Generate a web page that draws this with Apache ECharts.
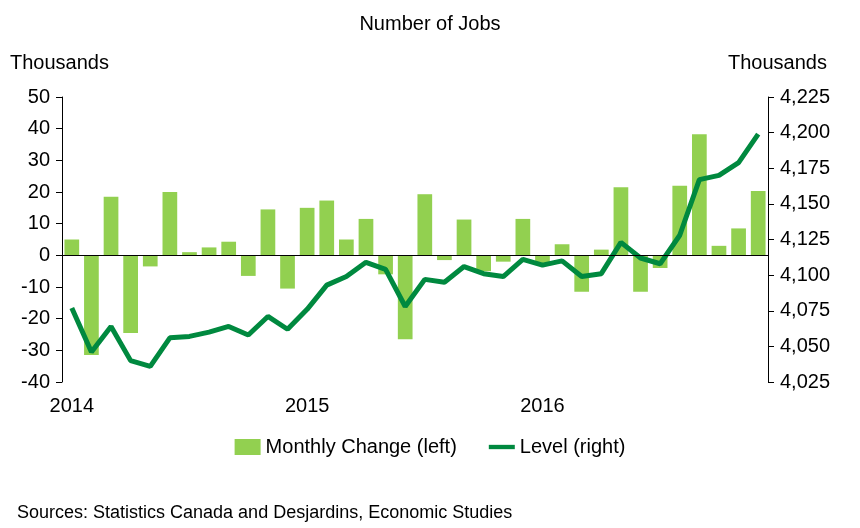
<!DOCTYPE html>
<html><head><meta charset="utf-8">
<script src="https://cdn.jsdelivr.net/npm/echarts@6/dist/echarts.min.js"></script>
<style>body{margin:0}#c{width:860px;height:528px}</style></head>
<body><div id="c"></div>
<script>
const categories = [];
for (const y of [2014, 2015, 2016]) for (let m = 1; m <= 12; m++) categories.push(y + '-' + m);
const monthlyChange = [5,-31.5,18.5,-24.5,-3.5,20,1,2.5,4.3,-6.5,14.5,-10.5,
  15,17.3,5,11.5,-6,-26.5,19.3,-1.5,11.3,-5,-2,11.5,
  -2.5,3.5,-11.5,1.8,21.5,-11.5,-4,22,38.2,3,8.5,20.3];
const level = [4077,4046,4064,4040,4036,4056,4057,4060,4064,4058,4071,4062,
  4076,4093,4099,4109,4104,4078,4097,4095,4106,4101,4099,4111,
  4107,4110,4099,4101,4123,4112,4108,4128,4167,4170,4179,4199];
const font = 'Liberation Sans, Arial, sans-serif';
const fs = 20;
const chart = echarts.init(document.getElementById('c'));
chart.setOption({
  animation:false,
  textStyle:{fontFamily:font},
  title:[{text:'Number of Jobs',left:'center',top:9,textStyle:{fontSize:fs,fontWeight:'normal',color:'#000',fontFamily:font}},
    {text:'Sources: Statistics Canada and Desjardins, Economic Studies',left:12,top:499,textStyle:{fontSize:18,fontWeight:'normal',color:'#000',fontFamily:font}}],
  legend:{top:432,left:'center',itemGap:32,textStyle:{fontSize:fs,color:'#000',fontFamily:font},
    data:[{name:'Monthly Change (left)',icon:'rect'},{name:'Level (right)',icon:'path://M0,5h30v5H0z'}],itemWidth:26,itemHeight:16},
  grid:{left:62,right:92,top:97,bottom:146,containLabel:false,outerBoundsMode:'none'},
  xAxis:{type:'category',data:categories,axisLine:{show:false},axisTick:{show:false},
    axisLabel:{interval:0,fontSize:fs,color:'#000',margin:14,formatter:(v,i)=>i%12===0?v.slice(0,4):''}},
  yAxis:[{type:'value',min:-40,max:50,interval:10,name:'Thousands',nameLocation:'end',nameGap:24,
      nameTextStyle:{fontSize:fs,color:'#000',align:'left',padding:[0,0,0,-52]},
      axisLine:{show:true,lineStyle:{color:'#000'}},axisTick:{show:true,length:6,lineStyle:{color:'#000'}},
      splitLine:{show:false},axisLabel:{fontSize:fs,color:'#000',margin:12}},
    {type:'value',min:4025,max:4225,interval:25,name:'Thousands',nameLocation:'end',nameGap:24,
      nameTextStyle:{fontSize:fs,color:'#000',align:'left',padding:[0,0,0,-40]},
      axisLine:{show:true,lineStyle:{color:'#000'}},axisTick:{show:true,length:6,lineStyle:{color:'#000'}},
      splitLine:{show:false},axisLabel:{fontSize:fs,color:'#000',margin:12,formatter:v=>v.toLocaleString('en-US')}}],
  series:[{name:'Monthly Change (left)',type:'bar',data:monthlyChange,barCategoryGap:'25%',itemStyle:{color:'#92d050'},
      markLine:{symbol:'none',silent:true,label:{show:false},lineStyle:{color:'#000',type:'solid',width:1},data:[{yAxis:0}]}},
    {name:'Level (right)',type:'line',yAxisIndex:1,data:level,symbol:'none',lineStyle:{color:'#00893f',width:5},itemStyle:{color:'#00893f'}}]
});
</script></body></html>
